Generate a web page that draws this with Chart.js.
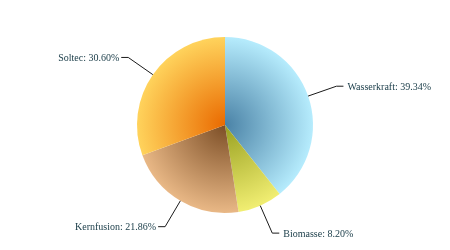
<!DOCTYPE html>
<html>
<head>
<meta charset="utf-8">
<script src="https://cdn.jsdelivr.net/npm/chart.js@4"></script>
<style>
  html, body { margin: 0; padding: 0; background: #fff; }
  #wrap { width: 450px; height: 250px; }
</style>
</head>
<body>
<div id="wrap"><canvas id="myChart"></canvas></div>
<script>
const labels = ["Wasserkraft", "Biomasse", "Kernfusion", "Soltec"];
const shares = [39.34, 8.2, 21.86, 30.6];
// inner (centre) and outer (rim) colour of each slice
const innerColors = ["#4a82a6", "#98a020", "#7c4e26", "#ea6a00"];
const outerColors = ["#b6ecfd", "#f1ee72", "#e9b886", "#ffd35c"];

const ctx = document.getElementById("myChart");

const sliceGradient = (context) => {
  const chart = context.chart;
  const i = context.dataIndex;
  const area = chart.chartArea;
  if (!area) return outerColors[i];
  const cx = (area.left + area.right) / 2;
  const cy = (area.top + area.bottom) / 2;
  const r = Math.min(area.right - area.left, area.bottom - area.top) / 2;
  const g = chart.ctx.createRadialGradient(cx, cy, 0, cx, cy, r);
  g.addColorStop(0, innerColors[i]);
  g.addColorStop(1, outerColors[i]);
  return g;
};

const leaderLabels = {
  id: "leaderLabels",
  afterDatasetsDraw(chart) {
    const c = chart.ctx;
    const meta = chart.getDatasetMeta(0);
    c.save();
    c.font = "10px 'Liberation Serif', 'Times New Roman', serif";
    c.textBaseline = "middle";
    meta.data.forEach((arc, i) => {
      const p = arc.getProps(["x", "y", "startAngle", "endAngle", "outerRadius"], true);
      const a = (p.startAngle + p.endAngle) / 2;
      const x0 = p.x + Math.cos(a) * p.outerRadius;
      const y0 = p.y + Math.sin(a) * p.outerRadius;
      const x1 = p.x + Math.cos(a) * (p.outerRadius + 30);
      const y1 = p.y + Math.sin(a) * (p.outerRadius + 30);
      const right = Math.cos(a) >= 0;
      const x2 = x1 + (right ? 7 : -7);
      c.strokeStyle = "#1a1a1a";
      c.lineWidth = 1;
      c.beginPath();
      c.moveTo(x0, y0);
      c.lineTo(x1, y1);
      c.lineTo(x2, y1);
      c.stroke();
      c.fillStyle = "#173a46";
      c.textAlign = right ? "left" : "right";
      c.fillText(labels[i] + ": " + shares[i].toFixed(2) + "%", x2 + (right ? 4 : -2), y1 + 1);
    });
    c.restore();
  },
};

new Chart(ctx, {
  type: "pie",
  data: {
    labels: labels,
    datasets: [
      {
        data: shares,
        backgroundColor: sliceGradient,
        borderWidth: 0,
      },
    ],
  },
  options: {
    responsive: true,
    maintainAspectRatio: false,
    animation: false,
    layout: { padding: { top: 37, bottom: 37, left: 0, right: 0 } },
    plugins: {
      legend: { display: false },
      tooltip: { enabled: false },
    },
  },
  plugins: [leaderLabels],
});
</script>
</body>
</html>
